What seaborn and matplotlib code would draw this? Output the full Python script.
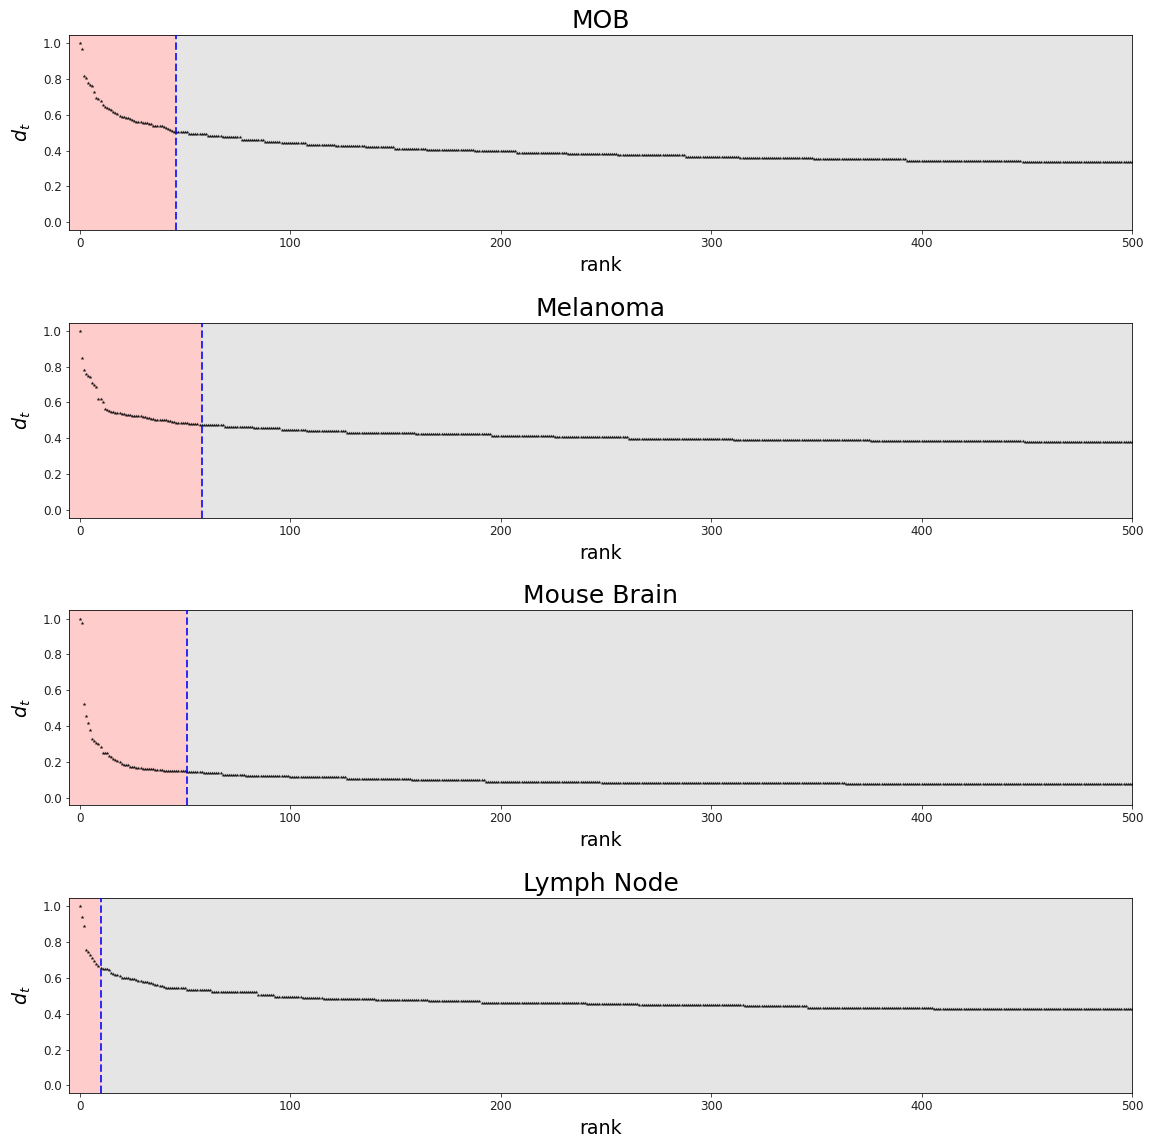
import numpy as np
import pandas as pd
import matplotlib
matplotlib.use("Agg")
import matplotlib.pyplot as plt
import seaborn as sns

titles = ["MOB", "Melanoma", "Mouse Brain", "Lymph Node"]
cutoffs = [46, 58, 51, 10]
x_ticks = [0, 100, 200, 300, 400, 500]
y_ticks = [0.0, 0.2, 0.4, 0.6, 0.8, 1.0]

# leading ranks, one value per rank
mob_head = [1.0, 0.965, 0.817, 0.805, 0.775, 0.765, 0.76, 0.725, 0.695, 0.688,
            0.675, 0.652, 0.645, 0.638, 0.632, 0.625, 0.617, 0.61, 0.602, 0.595,
            0.59, 0.585, 0.582, 0.58, 0.575, 0.57, 0.565, 0.562, 0.56, 0.56,
            0.556, 0.555, 0.553, 0.55, 0.548, 0.54, 0.535, 0.535, 0.535, 0.535,
            0.532, 0.525, 0.52, 0.515, 0.51, 0.505]
# plateaus: first rank of each plateau and its value
mob_starts = [46, 52, 61, 68, 77, 88, 96, 108, 122, 136, 150, 165, 188, 208, 232,
              256, 288, 314, 349, 393, 448]
mob_levels = [0.502, 0.493, 0.483, 0.474, 0.461, 0.45, 0.442, 0.433, 0.426, 0.419,
              0.411, 0.404, 0.396, 0.389, 0.381, 0.374, 0.367, 0.359, 0.352, 0.344,
              0.337]

mel_head = [1.0, 0.85, 0.783, 0.758, 0.749, 0.743, 0.706, 0.7, 0.689, 0.622,
            0.622, 0.605, 0.566, 0.558, 0.553, 0.548, 0.547, 0.542, 0.54, 0.54,
            0.536, 0.534, 0.532, 0.53, 0.53, 0.527, 0.525, 0.524, 0.524, 0.522,
            0.52, 0.519, 0.515, 0.512, 0.51, 0.507, 0.505, 0.503, 0.502, 0.5,
            0.5, 0.5, 0.498, 0.495, 0.492, 0.49, 0.488, 0.487, 0.486, 0.485,
            0.484, 0.483, 0.482, 0.48, 0.479, 0.478, 0.478, 0.477]
mel_starts = [58, 69, 83, 96, 108, 127, 160, 196, 226, 261, 311, 376, 449]
mel_levels = [0.472, 0.463, 0.455, 0.447, 0.439, 0.431, 0.422, 0.414, 0.406, 0.399,
              0.391, 0.384, 0.377]

brain_head = [1.0, 0.977, 0.523, 0.456, 0.415, 0.38, 0.327, 0.316, 0.306, 0.302,
              0.283, 0.249, 0.249, 0.249, 0.234, 0.227, 0.217, 0.212, 0.205, 0.199,
              0.19, 0.184, 0.18, 0.18, 0.171, 0.171, 0.171, 0.168, 0.166, 0.165,
              0.163, 0.162, 0.161, 0.16, 0.16, 0.158, 0.157, 0.155, 0.154, 0.153,
              0.152, 0.151, 0.15, 0.15, 0.149, 0.149, 0.148, 0.148, 0.147, 0.147,
              0.147]
brain_starts = [51, 59, 68, 79, 100, 127, 158, 193, 248, 364]
brain_levels = [0.143, 0.137, 0.129, 0.122, 0.114, 0.105, 0.097, 0.09, 0.083, 0.076]

lymph_head = [1.0, 0.94, 0.889, 0.755, 0.742, 0.729, 0.714, 0.695, 0.68, 0.667,
              0.655, 0.652, 0.652, 0.65, 0.643, 0.63, 0.62, 0.617, 0.615, 0.61,
              0.602, 0.598, 0.598, 0.597, 0.596, 0.594, 0.592, 0.588, 0.585, 0.583,
              0.58, 0.578, 0.575, 0.572, 0.569, 0.566, 0.563, 0.56, 0.556, 0.553,
              0.55]
lymph_starts = [41, 51, 63, 85, 93, 106, 116, 141, 166, 191, 241, 266, 316, 346, 406]
lymph_levels = [0.543, 0.532, 0.519, 0.505, 0.496, 0.49, 0.483, 0.476, 0.469, 0.462,
                0.455, 0.448, 0.441, 0.434, 0.427]

N_RANKS = 501


def build(head, starts, levels):
    counts = np.diff(starts + [N_RANKS])
    return np.concatenate([np.array(head), np.repeat(levels, counts)])


series = [build(mob_head, mob_starts, mob_levels),
          build(mel_head, mel_starts, mel_levels),
          build(brain_head, brain_starts, brain_levels),
          build(lymph_head, lymph_starts, lymph_levels)]

DPI = 72
fig, axes = plt.subplots(4, 1, figsize=(1154 / DPI, 1144 / DPI), dpi=DPI)
fig.subplots_adjust(left=69 / 1154, right=1132 / 1154,
                    top=1 - 35 / 1144, bottom=1 - 1093 / 1144, hspace=0.477)

for ax, title, cut, vals in zip(axes, titles, cutoffs, series):
    df = pd.DataFrame({"rank": np.arange(len(vals)), "dt": vals})
    ax.axvspan(-5, cut, color="red", alpha=0.2, lw=0, zorder=0)
    ax.axvspan(cut, 500, color="gray", alpha=0.2, lw=0, zorder=0)
    sns.scatterplot(data=df, x="rank", y="dt", ax=ax, color="black",
                    marker="*", s=16, linewidth=0, alpha=0.9, zorder=3)
    ax.axvline(cut, color="blue", alpha=0.8, linestyle="--", lw=2, zorder=4)
    ax.set_xlim(-5, 500)
    ax.set_ylim(-0.042, 1.045)
    ax.set_xticks(x_ticks)
    ax.set_yticks(y_ticks)
    ax.set_yticklabels([f"{t:.1f}" for t in y_ticks])
    ax.tick_params(labelsize=12, colors="#222222")
    ax.set_title(title, fontsize=25, pad=7)
    ax.set_xlabel("rank", fontsize=19, labelpad=6)
    ax.set_ylabel("$d_t$", fontsize=19, labelpad=10)

fig.savefig("out.png", dpi=DPI)
